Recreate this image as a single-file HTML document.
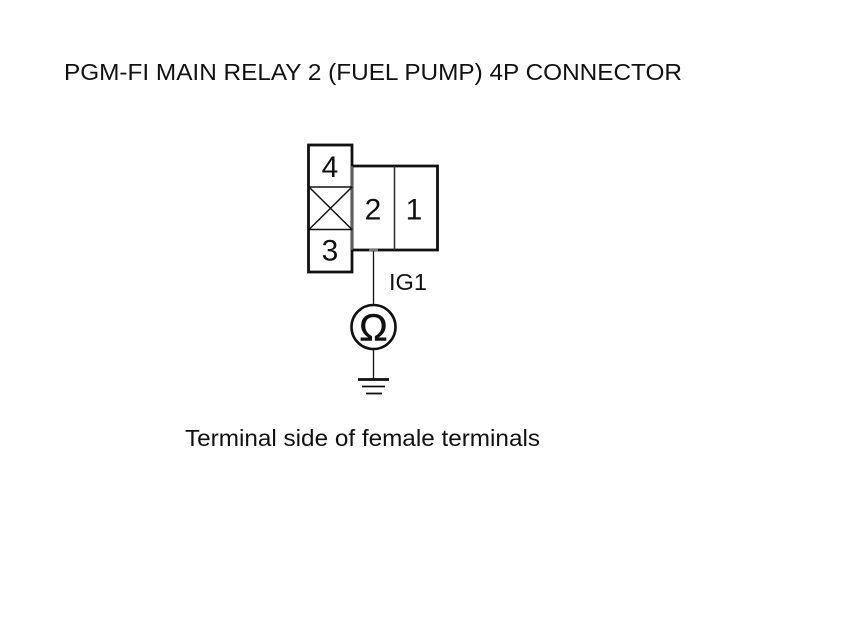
<!DOCTYPE html>
<html>
<head>
<meta charset="utf-8">
<style>
html,body{margin:0;padding:0;background:#fff;}
svg{display:block;}
text{font-family:"Liberation Sans",sans-serif;fill:#111;}
</style>
</head>
<body>
<svg width="860" height="630" viewBox="0 0 860 630" xmlns="http://www.w3.org/2000/svg">
<rect width="860" height="630" fill="#fff"/>
<text x="64" y="80" font-size="23.2" textLength="618" lengthAdjust="spacingAndGlyphs">PGM-FI MAIN RELAY 2 (FUEL PUMP) 4P CONNECTOR</text>
<g fill="none" stroke="#111">
<rect x="308.5" y="145" width="43.5" height="127" stroke-width="2.8"/>
<path d="M352 166H437.5V250H352" stroke-width="2.8"/>
<path d="M394.5 166V250" stroke-width="1.6" stroke="#333"/>
<path d="M352 166V250" stroke-width="1" stroke="#aaa"/>
<path d="M309 187H352M309 229.5H352M309 187L352 229.5M352 187L309 229.5" stroke-width="1.5"/>
<path d="M373.5 250V305M373.5 349V379" stroke-width="1.3"/>
<circle cx="373.5" cy="327" r="22" stroke-width="2.6"/>
<path d="M358 379.5H389" stroke-width="2.8"/>
<path d="M362 386.5H385" stroke-width="1.8"/>
<path d="M366 393.5H382" stroke-width="1.8"/>
</g>
<rect x="369" y="248.8" width="9" height="2.4" fill="#777"/>
<g font-size="30" text-anchor="middle">
<text x="330" y="177">4</text>
<text x="330" y="260.5">3</text>
<text x="373" y="219.5">2</text>
<text x="414" y="219.5">1</text>
</g>
<text x="389" y="290" font-size="23" textLength="38" lengthAdjust="spacingAndGlyphs">IG1</text>
<text x="373.5" y="340.5" font-size="38" text-anchor="middle" stroke="#111" stroke-width="0.5">Ω</text>
<text x="185" y="446" font-size="23.2" textLength="355" lengthAdjust="spacingAndGlyphs">Terminal side of female terminals</text>
</svg>
</body>
</html>
